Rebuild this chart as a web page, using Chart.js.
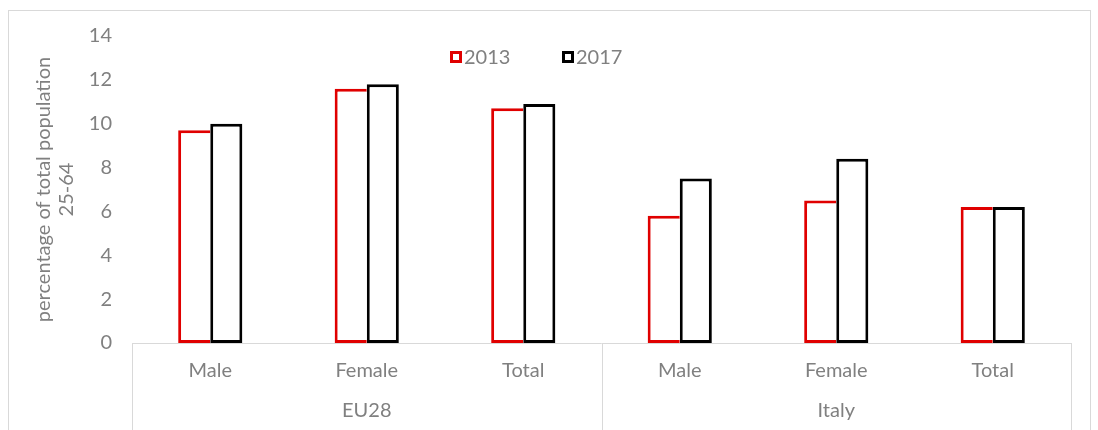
<!DOCTYPE html>
<html>
<head>
<meta charset="utf-8">
<script src="https://cdn.jsdelivr.net/npm/chart.js@4"></script>
<style>
  html, body { margin: 0; padding: 0; background: #fff; }
  #wrap { position: relative; width: 1098px; height: 430px; }
</style>
</head>
<body>
<div id="wrap"><canvas id="canvas" width="1098" height="430"></canvas></div>
<script>
const categories = ['Male', 'Female', 'Total', 'Male', 'Female', 'Total'];
const groupLabels = ['EU28', 'Italy'];
const values2013 = [9.7, 11.6, 10.7, 5.8, 6.5, 6.2];
const values2017 = [10.0, 11.8, 10.9, 7.5, 8.4, 6.2];
const yTicks = [0, 2, 4, 6, 8, 10, 12, 14];

const grey = '#808080';
const lineGrey = '#d9d9d9';
const font = { family: 'Lato, "Open Sans", sans-serif', size: 20 };

// frame round the whole chart + group dividers under the x axis
const framePlugin = {
  id: 'frame',
  beforeDraw(chart) {
    const c = chart.ctx;
    c.save();
    c.strokeStyle = lineGrey;
    c.lineWidth = 1;
    c.strokeRect(8.5, 10.5, 1082, 500);
    c.restore();
  },
  afterDraw(chart) {
    const x = chart.scales.x;
    const c = chart.ctx;
    const mid = (x.getPixelForValue(2) + x.getPixelForValue(3)) / 2;
    c.save();
    c.strokeStyle = lineGrey;
    c.lineWidth = 1;
    c.beginPath();
    [x.left, mid, x.right].forEach(px => {
      const p = Math.round(px) + 0.5;
      c.moveTo(p, x.top);
      c.lineTo(p, chart.height);
    });
    c.moveTo(x.left, Math.round(x.top) + 0.5);
    c.lineTo(x.right, Math.round(x.top) + 0.5);
    c.stroke();

    // legend, sitting inside the plot area like the original
    const items = chart.data.datasets;
    const legendX = [450, 562];
    const legendY = 57;
    c.font = font.size + 'px ' + font.family;
    c.textBaseline = 'middle';
    c.textAlign = 'left';
    items.forEach((ds, i) => {
      c.fillStyle = '#ffffff';
      c.strokeStyle = ds.borderColor;
      c.lineWidth = 3;
      c.strokeRect(legendX[i] + 1.5, legendY - 4.5, 9, 9);
      c.fillStyle = grey;
      c.fillText(ds.label, legendX[i] + 14, legendY + 1);
    });
    c.restore();
  }
};

new Chart(document.getElementById('canvas'), {
  type: 'bar',
  data: {
    labels: categories,
    datasets: [{
      label: '2013',
      data: values2013,
      backgroundColor: '#ffffff',
      borderColor: '#e00000',
      borderWidth: { top: 3, left: 3, bottom: 3, right: 0 },
      borderSkipped: false,
      xAxisID: 'x'
    }, {
      label: '2017',
      data: values2017,
      backgroundColor: '#ffffff',
      borderColor: '#000000',
      borderWidth: 3,
      borderSkipped: false,
      xAxisID: 'x'
    }]
  },
  options: {
    responsive: false,
    animation: false,
    layout: { padding: { left: 32, top: 36, right: 27, bottom: 0 } },
    datasets: { bar: { categoryPercentage: 0.41, barPercentage: 1.0 } },
    plugins: {
      tooltip: { enabled: false },
      legend: { display: false }
    },
    scales: {
      x: {
        type: 'category',
        position: 'bottom',
        grid: { display: false },
        border: { display: false },
        ticks: { color: grey, font: font, padding: 8 },
        afterFit(scale) { scale.height = 44; }
      },
      x2: {
        type: 'category',
        labels: groupLabels,
        position: 'bottom',
        offset: true,
        grid: { display: false },
        border: { display: false },
        ticks: { color: grey, font: font, padding: 4 },
        afterFit(scale) { scale.height = 43; }
      },
      y: {
        min: 0,
        max: 14,
        afterBuildTicks(scale) { scale.ticks = yTicks.map(v => ({ value: v })); },
        grid: { display: false },
        border: { display: false },
        ticks: { color: grey, font: font, padding: 12 },
        title: {
          display: true,
          text: ['percentage of total population', '25-64'],
          color: grey,
          font: { family: font.family, size: 20, lineHeight: 1.15 },
          padding: 0
        },
        afterFit(scale) { scale.width = 100; }
      }
    }
  },
  plugins: [framePlugin]
});
</script>
</body>
</html>
